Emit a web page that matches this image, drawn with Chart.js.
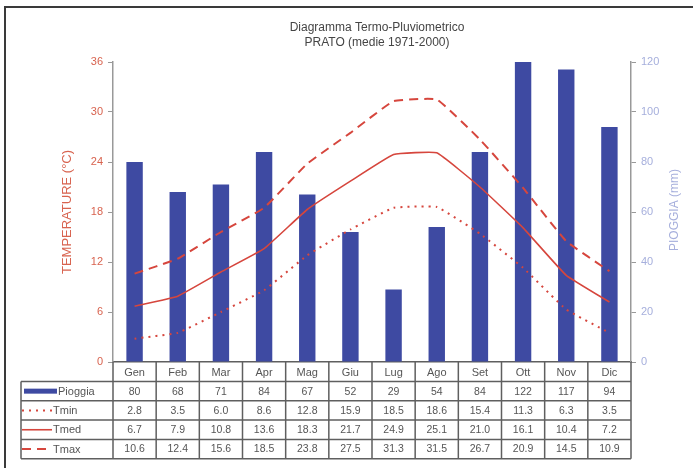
<!DOCTYPE html>
<html><head><meta charset="utf-8">
<script src="https://cdn.jsdelivr.net/npm/chart.js@4"></script>
<style>
html,body{margin:0;padding:0;background:#fff;overflow:hidden}
#wrap{position:relative;width:693px;height:468px;overflow:hidden}
#frame{position:absolute;left:4px;top:6px;width:800px;height:600px;border-left:2px solid #3a3a3a;border-top:2px solid #3a3a3a}
canvas{position:absolute;left:0;top:0}
</style></head><body>
<div id="wrap"><div id="frame"></div><canvas id="c" width="693" height="468"></canvas></div>
<script>
// Prato climate normals 1971-2000
const months = ['Gen','Feb','Mar','Apr','Mag','Giu','Lug','Ago','Set','Ott','Nov','Dic'];
const pioggia = [80, 68, 71, 84, 67, 52, 29, 54, 84, 122, 117, 94];
const tmin = [2.8, 3.5, 6.0, 8.6, 12.8, 15.9, 18.5, 18.6, 15.4, 11.3, 6.3, 3.5];
const tmed = [6.7, 7.9, 10.8, 13.6, 18.3, 21.7, 24.9, 25.1, 21.0, 16.1, 10.4, 7.2];
const tmax = [10.6, 12.4, 15.6, 18.5, 23.8, 27.5, 31.3, 31.5, 26.7, 20.9, 14.5, 10.9];
const tempTicks = [0, 6, 12, 18, 24, 30, 36];
const rainTicks = [0, 20, 40, 60, 80, 100, 120];
const titleLines = ['Diagramma Termo-Pluviometrico', 'PRATO (medie 1971-2000)'];

const FONT = 'Liberation Sans, Arial, sans-serif';
const RED = '#d6463d';
const BLUE = '#3e4aa2';
const RED_TEXT = '#d8634f';
const BLUE_TEXT = '#a6afdc';

// Title, right-hand axis title and the data table under the plot
const tablePlugin = {
  id: 'dataTable',
  afterDraw(chart) {
    const {ctx, chartArea} = chart;
    const x = chart.scales.x;
    const n = months.length;
    const colW = (chartArea.right - chartArea.left) / n;
    const top = chartArea.bottom;
    const headBottom = top + 19.5;
    const rowH = 19.3;
    const tableLeft = 21;
    const right = chartArea.right;

    ctx.save();
    // title
    ctx.fillStyle = '#454545';
    ctx.font = '12px ' + FONT;
    ctx.textAlign = 'center';
    ctx.textBaseline = 'middle';
    ctx.fillText(titleLines[0], 377, 28);
    ctx.fillText(titleLines[1], 377, 43);

    // right axis title, read bottom to top
    ctx.save();
    ctx.translate(675, 210);
    ctx.rotate(-Math.PI / 2);
    ctx.fillStyle = BLUE_TEXT;
    ctx.font = '12px ' + FONT;
    ctx.fillText('PIOGGIA (mm)', 0, 0);
    ctx.restore();

    // grid of the table
    ctx.strokeStyle = '#5f5f5f';
    ctx.lineWidth = 1.5;
    ctx.beginPath();
    for (let i = 0; i <= n; i++) {
      const xx = chartArea.left + i * colW;
      ctx.moveTo(xx, top);
      ctx.lineTo(xx, headBottom + rowH * 4);
    }
    for (let r = 0; r <= 4; r++) {
      const yy = headBottom + r * rowH;
      ctx.moveTo(tableLeft, yy);
      ctx.lineTo(right, yy);
    }
    ctx.moveTo(tableLeft, headBottom);
    ctx.lineTo(tableLeft, headBottom + 4 * rowH);
    ctx.stroke();

    const rows = [
      {ds: chart.data.datasets[0], values: pioggia, fmt: v => String(v)},
      {ds: chart.data.datasets[1], values: tmin, fmt: v => v.toFixed(1)},
      {ds: chart.data.datasets[2], values: tmed, fmt: v => v.toFixed(1)},
      {ds: chart.data.datasets[3], values: tmax, fmt: v => v.toFixed(1)}
    ];
    rows.forEach((row, r) => {
      const cy = headBottom + r * rowH + rowH / 2;
      // values
      ctx.font = '10.5px ' + FONT;
      ctx.fillStyle = '#555';
      ctx.textAlign = 'center';
      row.values.forEach((v, i) => {
        ctx.fillText(row.fmt(v), x.getPixelForValue(i), cy + 0.5);
      });
      // legend key
      const ds = row.ds;
      if (ds.type === 'bar') {
        ctx.fillStyle = ds.backgroundColor;
        ctx.fillRect(24, cy - 2.5, 33, 5);
      } else {
        ctx.save();
        ctx.strokeStyle = ds.borderColor;
        ctx.lineWidth = ds.borderWidth;
        ctx.setLineDash(ds.borderDash || []);
        ctx.beginPath();
        ctx.moveTo(22, cy);
        ctx.lineTo(52, cy);
        ctx.stroke();
        ctx.restore();
      }
      ctx.font = '11px ' + FONT;
      ctx.fillStyle = '#555';
      ctx.textAlign = 'left';
      ctx.fillText(ds.label, ds.type === 'bar' ? 58 : 53, cy + 0.5);
    });
    ctx.restore();
  }
};

new Chart(document.getElementById('c'), {
  data: {
    labels: months,
    datasets: [
      {type: 'bar', label: 'Pioggia', data: pioggia, yAxisID: 'yRain',
       backgroundColor: BLUE, borderWidth: 0, barPercentage: 0.38, categoryPercentage: 1, order: 2},
      {type: 'line', label: 'Tmin', data: tmin, yAxisID: 'yTemp',
       borderColor: RED, borderWidth: 2, borderDash: [2, 5], pointRadius: 0, tension: 0.1, order: 1},
      {type: 'line', label: 'Tmed', data: tmed, yAxisID: 'yTemp',
       borderColor: RED, borderWidth: 1.6, pointRadius: 0, tension: 0.1, order: 1},
      {type: 'line', label: 'Tmax', data: tmax, yAxisID: 'yTemp',
       borderColor: RED, borderWidth: 2, borderDash: [9, 6], pointRadius: 0, tension: 0.1, order: 1}
    ]
  },
  options: {
    responsive: false,
    animation: false,
    layout: {padding: {top: 62, left: 0, right: 0, bottom: 0}},
    plugins: {legend: {display: false}, title: {display: false}, tooltip: {enabled: false}},
    scales: {
      x: {
        offset: true,
        grid: {display: false, drawTicks: false},
        border: {color: '#5f5f5f', width: 1.5},
        ticks: {color: '#555', font: {family: FONT, size: 11}, padding: 4, maxRotation: 0},
        afterFit(s) { s.height = 106; }
      },
      yTemp: {
        position: 'left', min: 0, max: 36,
        afterBuildTicks(s) { s.ticks = tempTicks.map(v => ({value: v})); },
        grid: {drawOnChartArea: false, tickLength: 5, color: '#999'},
        border: {color: '#999', width: 1.5},
        ticks: {color: RED_TEXT, font: {family: FONT, size: 11}, padding: 5},
        title: {display: true, text: 'TEMPERATURE (°C)', color: RED_TEXT,
                font: {family: FONT, size: 13}, padding: {top: 60}},
        afterFit(s) { s.width = 113; }
      },
      yRain: {
        position: 'right', min: 0, max: 120,
        afterBuildTicks(s) { s.ticks = rainTicks.map(v => ({value: v})); },
        grid: {drawOnChartArea: false, tickLength: 5, color: '#999'},
        border: {color: '#999', width: 1.5},
        ticks: {color: BLUE_TEXT, font: {family: FONT, size: 11}, padding: 5},
        afterFit(s) { s.width = 62; }
      }
    }
  },
  plugins: [tablePlugin]
});
</script>
</body></html>
